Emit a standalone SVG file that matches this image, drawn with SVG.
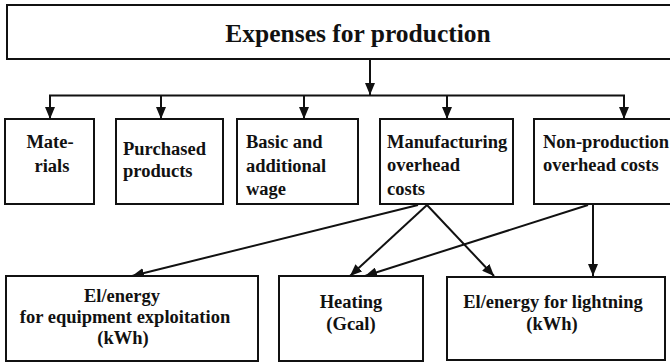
<svg xmlns="http://www.w3.org/2000/svg" width="670" height="364" viewBox="0 0 670 364" font-family="'Liberation Serif', 'Times New Roman', serif" font-weight="bold">
<style>
.box{fill:#fff;stroke:#111;stroke-width:2}
text{font-family:"Liberation Serif","Times New Roman",serif;font-weight:bold;fill:#111}
.n{font-size:18.5px}
.c{text-anchor:middle}
.ln{stroke:#111;stroke-width:2;fill:none}
</style>
<defs>
<marker id="ah" viewBox="0 0 12 10" refX="12" refY="5" markerWidth="12" markerHeight="10" markerUnits="userSpaceOnUse" orient="auto">
<path d="M0,0 L12,5 L0,10 Z" fill="#111"/>
</marker>
</defs>
<rect width="670" height="364" fill="#fff"/>
<g id="connectors">
<line class="ln" x1="370" y1="60" x2="370" y2="95" marker-end="url(#ah)"/>
<line class="ln" x1="49" y1="95.5" x2="625" y2="95.5"/>
<line class="ln" x1="50" y1="95" x2="50" y2="119" marker-end="url(#ah)"/>
<line class="ln" x1="161" y1="95" x2="161" y2="119" marker-end="url(#ah)"/>
<line class="ln" x1="304" y1="95" x2="304" y2="119" marker-end="url(#ah)"/>
<line class="ln" x1="447" y1="95" x2="447" y2="119" marker-end="url(#ah)"/>
<line class="ln" x1="624" y1="95" x2="624" y2="119" marker-end="url(#ah)"/>
<line class="ln" x1="418" y1="205" x2="132" y2="276" marker-end="url(#ah)"/>
<line class="ln" x1="427" y1="205" x2="350" y2="276" marker-end="url(#ah)"/>
<line class="ln" x1="427" y1="205" x2="494" y2="276" marker-end="url(#ah)"/>
<line class="ln" x1="588" y1="205" x2="365" y2="276" marker-end="url(#ah)"/>
<line class="ln" x1="593" y1="205" x2="593" y2="276" marker-end="url(#ah)"/>
</g>
<g id="expenses">
<rect class="box" x="7" y="5" width="670" height="54"/>
<text class="c" x="358" y="42" font-size="25.5">Expenses for production</text>
</g>
<g id="materials">
<rect class="box" x="5" y="119" width="89" height="85"/>
<text class="n c" x="50" y="148">Mate-</text>
<text class="n c" x="52" y="172">rials</text>
</g>
<g id="purchased">
<rect class="box" x="116" y="119" width="107" height="85"/>
<text class="n" x="123" y="155">Purchased</text>
<text class="n" x="123" y="177">products</text>
</g>
<g id="wage">
<rect class="box" x="237" y="119" width="121" height="85"/>
<text class="n" x="246" y="148">Basic and</text>
<text class="n" x="246" y="172">additional</text>
<text class="n" x="246" y="195">wage</text>
</g>
<g id="manufacturing">
<rect class="box" x="380" y="119" width="133" height="85"/>
<text class="n" x="387" y="148">Manufacturing</text>
<text class="n" x="387" y="171">overhead</text>
<text class="n" x="387" y="195">costs</text>
</g>
<g id="nonproduction">
<rect class="box" x="534" y="119" width="145" height="85"/>
<text class="n" x="543" y="148">Non-production</text>
<text class="n" x="543" y="171">overhead costs</text>
</g>
<g id="equipment">
<rect class="box" x="6" y="276" width="252" height="85"/>
<text class="n c" x="122" y="302">El/energy</text>
<text class="n c" x="125" y="323">for equipment exploitation</text>
<text class="n c" x="123" y="344">(kWh)</text>
</g>
<g id="heating">
<rect class="box" x="279" y="276" width="144" height="85"/>
<text class="n c" x="351" y="308">Heating</text>
<text class="n c" x="351" y="330">(Gcal)</text>
</g>
<g id="lightning">
<rect class="box" x="447" y="277" width="218" height="83"/>
<text class="n c" x="553" y="308">El/energy for lightning</text>
<text class="n c" x="552" y="330">(kWh)</text>
</g>
</svg>
